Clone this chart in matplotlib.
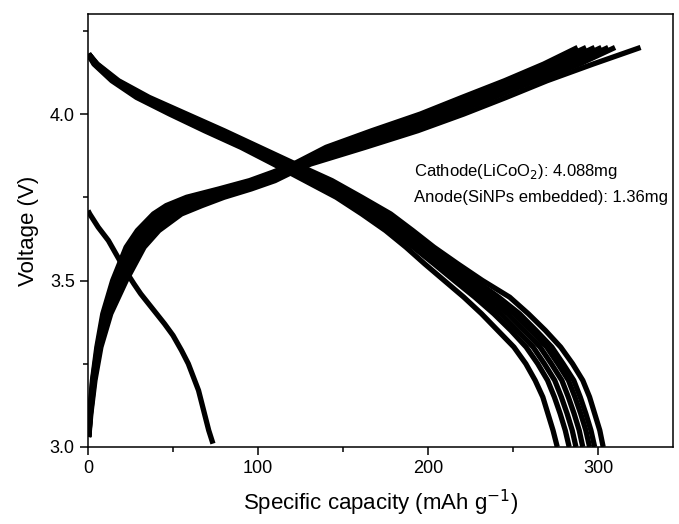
import matplotlib
matplotlib.use("Agg")
import matplotlib.pyplot as plt
from matplotlib.ticker import MultipleLocator, FormatStrFormatter

plt.rcParams['font.family'] = ['Liberation Sans', 'DejaVu Sans']

# discharge curves: capacity (mAh/g) at each voltage step, one list per cycle
discharge_v = [4.18, 4.15, 4.10, 4.05, 4.00, 3.95, 3.90, 3.85, 3.80, 3.75,
               3.70, 3.65, 3.60, 3.55, 3.50, 3.45, 3.40, 3.35, 3.30, 3.25,
               3.20, 3.15, 3.10, 3.05, 3.00]
discharge_cap = [
    [0, 3.5, 14, 28.5, 48, 68.5, 90, 109, 127.5, 146,
     161, 175, 187, 198, 209.5, 221, 231.5, 241, 250.5, 257.5,
     263, 267.5, 270.5, 273.5, 276],
    [0, 4, 15, 30.5, 50.6, 71.5, 92.9, 112.4, 131.7, 149.9,
     165.4, 178.9, 191.3, 203.5, 215.4, 227.5, 238.7, 248.7, 257.7, 264.5,
     270.3, 274.3, 277.7, 280.7, 283],
    [0, 4.3, 15.6, 31.6, 52.1, 73.2, 94.5, 114.3, 134.1, 152.2,
     168, 181.2, 193.8, 206.5, 218.7, 231, 242.8, 252.5, 261.8, 268.4,
     274.5, 278.4, 281.8, 284.8, 287],
    [0.5, 4.6, 16.2, 32.7, 53.6, 74.9, 96.2, 116.3, 136.5, 154.4,
     170.5, 183.6, 196.2, 209.4, 222.1, 235, 246.9, 256.6, 265.9, 272.5,
     278.7, 282.5, 285.9, 288.9, 291],
    [0.5, 4.9, 16.8, 33.8, 55, 76.5, 97.7, 118.1, 138.7, 156.5,
     172.9, 186, 198.6, 212.2, 225.3, 238.6, 250.8, 260.5, 269.8, 276.4,
     282.6, 286.4, 289.8, 292.8, 295],
    [0.5, 5.1, 17.2, 34.6, 56.1, 77.8, 98.9, 119.5, 140.5, 158.2,
     174.8, 187.8, 200.4, 214.3, 227.7, 241.5, 253.8, 263.5, 272.8, 279.4,
     285.7, 289.5, 292.8, 295.8, 298],
    [0.5, 5.5, 18, 36, 58, 80, 101, 122, 143.5, 161,
     178, 191, 203.5, 217.5, 232, 248, 259, 269, 278, 285,
     291, 295, 298, 301, 303],
]

# charge curves
charge_v = [3.03, 3.10, 3.20, 3.30, 3.40, 3.50, 3.60, 3.65, 3.70, 3.725,
            3.75, 3.775, 3.80, 3.825, 3.85, 3.90, 3.95, 4.00, 4.05, 4.10,
            4.15, 4.20]
charge_cap = [
    [0.2, 1, 2.6, 5.2, 8.7, 14.5, 22.4, 29, 38.5, 46,
     58, 77, 95, 108.5, 121, 140, 167, 195.5, 220, 245,
     268, 288],
    [0.2, 1.1, 2.8, 5.6, 9.4, 15.7, 24, 30.9, 41, 49.2,
     61.3, 79.9, 97.3, 110.2, 122.5, 143.5, 171, 199.3, 223.9, 248.8,
     272, 293],
    [0.3, 1.2, 3.1, 5.9, 10.1, 16.9, 25.6, 32.8, 43.5, 52.3,
     64.6, 82.7, 99.5, 112, 124, 146.9, 175.1, 203.2, 227.8, 252.5,
     277, 298],
    [0.3, 1.3, 3.3, 6.3, 10.8, 18.1, 27.2, 34.7, 45.9, 55.5,
     67.9, 85.6, 101.8, 113.7, 125.5, 150.4, 179.2, 207, 231.7, 256.3,
     281, 302],
    [0.4, 1.4, 3.5, 6.6, 11.5, 19.3, 28.8, 36.6, 48.4, 58.6,
     71.2, 88.4, 104, 115.4, 127, 153.8, 183.2, 210.8, 235.6, 260,
     285, 306],
    [0.4, 1.5, 3.7, 6.9, 12.1, 20.3, 30, 38.1, 50.4, 61.1,
     73.8, 90.7, 105.8, 116.8, 128.2, 156.6, 186.4, 213.9, 238.7, 263,
     289, 310],
    [0.5, 1.7, 4.1, 7.6, 13.4, 22.5, 33, 41.7, 55, 67,
     80, 96, 110, 120, 131, 163, 194, 221, 246, 270,
     297, 325],
]

# first discharge
first_cap = [0, 1, 6, 12, 17, 22, 27, 31, 38, 45, 50, 55, 59, 62, 65, 67, 69, 71, 73.5]
first_v = [3.71, 3.70, 3.66, 3.62, 3.575, 3.53, 3.49, 3.46, 3.415, 3.37,
           3.335, 3.29, 3.25, 3.21, 3.17, 3.13, 3.09, 3.05, 3.01]

fig = plt.figure(figsize=(6.79, 5.24), dpi=100)
ax = fig.add_axes([0.1296, 0.147, 0.8614, 0.826])

style = dict(color='black', lw=3.8, solid_capstyle='butt', solid_joinstyle='round')
for cap in discharge_cap:
    ax.plot(cap, discharge_v, **style)
for cap in charge_cap:
    ax.plot(cap, charge_v, **style)
ax.plot(first_cap, first_v, **style)

ax.text(192, 3.826, 'Cathode(LiCoO$_2$): 4.088mg', fontsize=12, va='center')
ax.text(192, 3.749, 'Anode(SiNPs embedded): 1.36mg', fontsize=12, va='center')

ax.set_xlim(0, 344)
ax.set_ylim(3.0, 4.3)
ax.xaxis.set_major_locator(MultipleLocator(100))
ax.xaxis.set_minor_locator(MultipleLocator(50))
ax.yaxis.set_major_locator(MultipleLocator(0.5))
ax.yaxis.set_minor_locator(MultipleLocator(0.25))
ax.yaxis.set_major_formatter(FormatStrFormatter('%.1f'))
ax.tick_params(which='major', length=6, width=1.1, labelsize=13, direction='out')
ax.tick_params(which='minor', length=3.5, width=1.1, direction='out')
for s in ax.spines.values():
    s.set_linewidth(1.1)

ax.set_xlabel('Specific capacity (mAh g$^{-1}$)', fontsize=16, labelpad=8)
ax.set_ylabel('Voltage (V)', fontsize=16, labelpad=8)

fig.savefig('out.png', dpi=100)
